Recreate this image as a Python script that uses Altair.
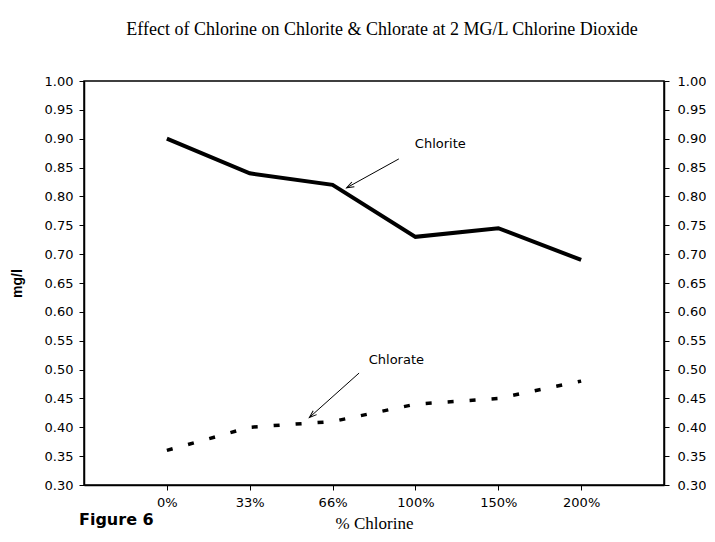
import altair as alt
import pandas as pd

# ---- data ----
categories = ["0%", "33%", "66%", "100%", "150%", "200%"]
chlorite_values = [0.90, 0.84, 0.82, 0.73, 0.745, 0.69]
chlorate_values = [0.36, 0.40, 0.41, 0.44, 0.45, 0.48]
y_ticks = [0.30, 0.35, 0.40, 0.45, 0.50, 0.55, 0.60, 0.65, 0.70,
           0.75, 0.80, 0.85, 0.90, 0.95, 1.00]
y_domain = [0.30, 1.00]
x_domain = [-1, 6]

# annotations (data coordinates: category index, mg/l)
label_names = ["Chlorite", "Chlorate"]
label_x = [3.30, 2.77]
label_y = [0.890, 0.516]
arrow_x_from = [2.80, 2.32]
arrow_y_from = [0.865, 0.494]
arrow_x_to = [2.17, 1.72]
arrow_y_to = [0.815, 0.417]
arrow_angle = [242, 229]

idx = list(range(len(categories)))
chlorite_df = pd.DataFrame({"i": idx, "cat": categories, "v": chlorite_values})
chlorate_df = pd.DataFrame({"i": idx, "cat": categories, "v": chlorate_values})
labels_df = pd.DataFrame({"x": label_x, "y": label_y, "t": label_names})
arrows_df = pd.DataFrame({"x": arrow_x_from, "y": arrow_y_from,
                          "x2": arrow_x_to, "y2": arrow_y_to, "a": arrow_angle})
fig_df = pd.DataFrame({"t": ["Figure 6"]})

label_expr = "[" + ",".join("'%s'" % c for c in categories) + "][datum.value]"

TICK_FONT = "DejaVu Sans"

x_scale = alt.Scale(domain=x_domain, nice=False, zero=False)
x_axis = alt.Axis(values=idx, labelExpr=label_expr, title="% Chlorine",
                  titleFont="Liberation Serif", titleFontSize=17,
                  titleFontWeight="normal", titlePadding=6,
                  labelFont=TICK_FONT, labelFontSize=13, labelPadding=6,
                  tickSize=5, grid=False, domainColor="black",
                  tickColor="black", labelColor="black", titleColor="black",
                  domainWidth=1.5)

y_scale = alt.Scale(domain=y_domain, nice=False, zero=False)

left_axis = alt.Axis(values=y_ticks, format=".2f", title="mg/l", orient="left",
                     titleFont="Liberation Sans", titleFontSize=14, titleFontWeight="bold",
                     titlePadding=20, labelFont=TICK_FONT, labelFontSize=13,
                     labelPadding=6, tickSize=5, grid=False, domainColor="black",
                     tickColor="black", labelColor="black", titleColor="black",
                     domainWidth=1.5, labelOverlap=False, labelBound=False)
right_axis = alt.Axis(values=y_ticks, format=".2f", title=None, orient="right",
                      labelFont=TICK_FONT, labelFontSize=13, labelPadding=8,
                      tickSize=5, grid=False, domainColor="black",
                      tickColor="black", labelColor="black", domainWidth=1.5,
                      labelOverlap=False, labelBound=False)

chlorite_line = alt.Chart(chlorite_df).mark_line(color="black", strokeWidth=4).encode(
    x=alt.X("i:Q", scale=x_scale, axis=x_axis),
    y=alt.Y("v:Q", scale=y_scale, axis=left_axis))

labels = alt.Chart(labels_df).mark_text(font=TICK_FONT, fontSize=13, color="black",
                                        align="center", baseline="middle").encode(
    x=alt.X("x:Q", scale=x_scale, axis=x_axis),
    y=alt.Y("y:Q", scale=y_scale, axis=left_axis), text="t:N")

shafts = alt.Chart(arrows_df).mark_rule(color="black", strokeWidth=1).encode(
    x=alt.X("x:Q", scale=x_scale, axis=x_axis),
    y=alt.Y("y:Q", scale=y_scale, axis=left_axis),
    x2="x2:Q", y2="y2:Q")

heads = alt.Chart(arrows_df).mark_point(
    shape="M-0.5,1.4L0,0L0.5,1.4", filled=False, color="black",
    strokeWidth=1, size=110, opacity=1).encode(
    x=alt.X("x2:Q", scale=x_scale, axis=x_axis),
    y=alt.Y("y2:Q", scale=y_scale, axis=left_axis),
    angle=alt.Angle("a:Q", scale=None))

fig_label = alt.Chart(fig_df).mark_text(font=TICK_FONT, fontSize=16, fontWeight="bold",
                                        color="black", align="left",
                                        baseline="alphabetic").encode(
    x=alt.value(-5), y=alt.value(444), text="t:N")

left_group = alt.layer(chlorite_line, labels, shafts, heads, fig_label)

chlorate_line = alt.Chart(chlorate_df).mark_line(
    color="black", strokeWidth=3.5, strokeDash=[6, 16]).encode(
    x=alt.X("i:Q", scale=x_scale, axis=x_axis),
    y=alt.Y("v:Q", scale=y_scale, axis=right_axis))

chart = alt.layer(left_group, chlorate_line).resolve_scale(y="independent").properties(
    width=580, height=404,
    autosize=alt.AutoSizeParams(type="none"),
    padding={"left": 76, "top": 73, "right": 42, "bottom": 48},
    background="white",
    title=alt.TitleParams("Effect of Chlorine on Chlorite & Chlorate at 2 MG/L Chlorine Dioxide",
                          font="Liberation Serif", fontSize=18, fontWeight="normal",
                          color="black", anchor="middle", frame="group", offset=36, dx=8),
).configure_view(stroke="black", strokeWidth=1.5)

chart.save("out.html", embed_options={"renderer": "svg", "actions": False})
